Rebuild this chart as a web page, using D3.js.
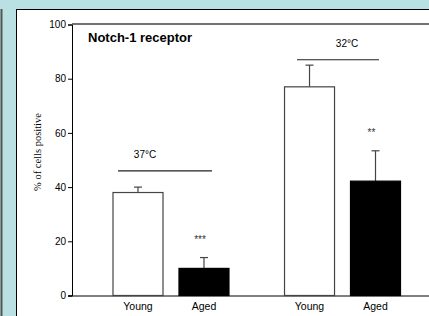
<!DOCTYPE html>
<html>
<head>
<meta charset="utf-8">
<script src="https://cdn.jsdelivr.net/npm/d3@7"></script>
<style>
  body { margin: 0; background: #b9e1e4; }
  svg { display: block; }
</style>
</head>
<body>
<script>
// data
const groups = ["37°C", "32°C"];
const ages = ["Young", "Aged"];
const values = [38, 10, 77, 42.2];
const errors = [2, 4, 8, 11.2];
const stars = ["", "***", "", "**"];
const yTicks = [0, 20, 40, 60, 80, 100];

document.addEventListener("DOMContentLoaded", () => {
    const width = 429, height = 316;

    const svg = d3.select("body").append("svg")
        .attr("width", width)
        .attr("height", height);

    // light blue frame, dark edge on the left, white panel
    svg.append("rect").attr("width", width).attr("height", height).attr("fill", "#b9e1e4");
    svg.append("line").attr("x1", 1.5).attr("x2", 1.5).attr("y1", 9).attr("y2", height)
        .attr("stroke", "#555").attr("stroke-width", 2);
    svg.append("rect").attr("x", 16.5).attr("y", 9.5).attr("width", width).attr("height", height)
        .attr("fill", "#fff").attr("stroke", "#000");

    const y = d3.scaleLinear().domain([0, 100]).range([295.5, 24.5]);
    const xg = d3.scaleBand().domain(groups).range([112.5, 401]).paddingInner(0.318);
    const xa = d3.scaleBand().domain(ages).range([0, xg.bandwidth()]).paddingInner(0.227);

    const rows = [];
    groups.forEach((g, i) => ages.forEach((a, j) => {
        const k = i * 2 + j;
        rows.push({ g, a, v: values[k], e: errors[k], s: stars[k] });
    }));
    const bx = d => xg(d.g) + xa(d.a);
    const cx = d => bx(d) + xa.bandwidth() / 2;

    // top frame line
    svg.append("line").attr("x1", 72).attr("x2", width).attr("y1", y(100) - 0.5).attr("y2", y(100) - 0.5)
        .attr("stroke", "#444").attr("stroke-width", 1.6);

    // y axis
    const yAxis = svg.append("g").attr("transform", "translate(72,0)")
        .call(d3.axisLeft(y).tickValues(yTicks).tickSize(4).tickPadding(2));
    yAxis.select(".domain").attr("stroke", "#000");
    yAxis.selectAll("text").attr("font-family", "Arial, 'Liberation Sans', sans-serif")
        .attr("font-size", 10).attr("fill", "#000");

    // x axis line
    svg.append("line").attr("x1", 68).attr("x2", width).attr("y1", y(0) + 0.5).attr("y2", y(0) + 0.5)
        .attr("stroke", "#000");

    // error bars
    const eb = svg.append("g").attr("stroke", "#444").attr("stroke-width", 1.2);
    eb.selectAll(".ev").data(rows).join("line")
        .attr("x1", cx).attr("x2", cx)
        .attr("y1", d => y(d.v)).attr("y2", d => y(d.v + d.e));
    eb.selectAll(".ec").data(rows).join("line")
        .attr("x1", d => cx(d) - 4).attr("x2", d => cx(d) + 4)
        .attr("y1", d => y(d.v + d.e)).attr("y2", d => y(d.v + d.e));

    // bars
    svg.append("g").selectAll("rect").data(rows).join("rect")
        .attr("x", d => bx(d) + 0.5)
        .attr("y", d => y(d.v))
        .attr("width", xa.bandwidth() - 1)
        .attr("height", d => y(0) - y(d.v))
        .attr("fill", d => d.a === "Aged" ? "#000" : "#fff")
        .attr("stroke", d => d.a === "Aged" ? "#000" : "#444")
        .attr("stroke-width", 1.2);

    // asterisks
    svg.append("g").selectAll("text").data(rows.filter(d => d.s)).join("text")
        .attr("x", d => cx(d) - 4)
        .attr("y", d => y(d.v + d.e) - 15)
        .attr("text-anchor", "middle")
        .attr("font-family", "Arial, 'Liberation Sans', sans-serif")
        .attr("font-size", 10)
        .attr("fill", "#333")
        .text(d => d.s);

    // x labels
    svg.append("g").selectAll("text").data(rows).join("text")
        .attr("x", cx).attr("y", 310)
        .attr("text-anchor", "middle")
        .attr("font-family", "Arial, 'Liberation Sans', sans-serif")
        .attr("font-size", 10.5)
        .text(d => d.a);

    // temperature brackets
    const brackets = [
        { g: "37°C", v: 46, x0: 118, x1: 212, lx: 145 },
        { g: "32°C", v: 87, x0: 297, x1: 379, lx: 347 }
    ];
    brackets.forEach(b => {
        svg.append("line").attr("x1", b.x0).attr("x2", b.x1)
            .attr("y1", y(b.v)).attr("y2", y(b.v))
            .attr("stroke", "#222").attr("stroke-width", 1.2);
        svg.append("text").attr("x", b.lx).attr("y", y(b.v) - 13)
            .attr("text-anchor", "middle")
            .attr("font-family", "Arial, 'Liberation Sans', sans-serif")
            .attr("font-size", 10)
            .text(b.g);
    });

    // title
    svg.append("text").attr("x", 88).attr("y", 42)
        .attr("font-family", "Arial, 'Liberation Sans', sans-serif")
        .attr("font-weight", "bold").attr("font-size", 13)
        .text("Notch-1 receptor");

    // y label
    svg.append("text")
        .attr("transform", "translate(41,152) rotate(-90)")
        .attr("text-anchor", "middle")
        .attr("font-family", "'Times New Roman', 'Liberation Serif', serif")
        .attr("font-size", 10.5)
        .text("% of cells positive");
});
</script>
</body>
</html>
